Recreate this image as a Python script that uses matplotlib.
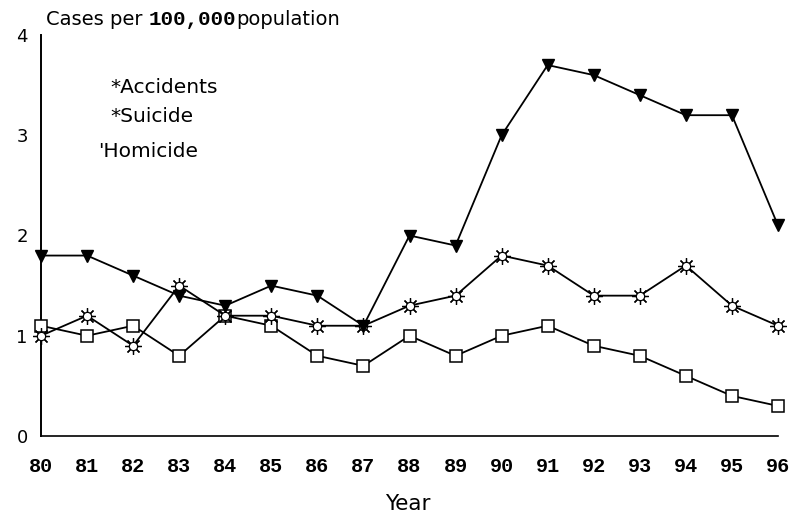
import matplotlib
matplotlib.use("Agg")
import matplotlib.pyplot as plt

years = list(range(80, 97))
year_labels = [str(y) for y in years]
accidents = [1.8, 1.8, 1.6, 1.4, 1.3, 1.5, 1.4, 1.1, 2.0, 1.9, 3.0, 3.7, 3.6, 3.4, 3.2, 3.2, 2.1]
suicide = [1.0, 1.2, 0.9, 1.5, 1.2, 1.2, 1.1, 1.1, 1.3, 1.4, 1.8, 1.7, 1.4, 1.4, 1.7, 1.3, 1.1]
homicide = [1.1, 1.0, 1.1, 0.8, 1.2, 1.1, 0.8, 0.7, 1.0, 0.8, 1.0, 1.1, 0.9, 0.8, 0.6, 0.4, 0.3]
y_ticks = [0, 1, 2, 3, 4]
legend_labels = ["*Accidents", "*Suicide", "'Homicide"]

W, H = 794, 518
fig = plt.figure(figsize=(W / 100, H / 100), dpi=100)
ax = fig.add_axes([41 / W, 1 - 436 / H, (778 - 41) / W, (436 - 35) / H])
ax.set_xlim(80, 96)
ax.set_ylim(0, 4)

lw = 1.3
ax.plot(years, homicide, color="black", lw=lw, marker="s", ms=8,
        mfc="white", mec="black", mew=1.1, clip_on=False, zorder=3)
ax.plot(years, suicide, color="black", lw=lw, clip_on=False, zorder=3)
ax.plot(years, suicide, ls="none", marker=(8, 2, 0), ms=12, mec="black",
        mew=0.9, clip_on=False, zorder=4)
ax.plot(years, suicide, ls="none", marker="o", ms=6, mfc="white",
        mec="black", mew=0.9, clip_on=False, zorder=5)
ax.plot(years, accidents, color="black", lw=lw, marker="v", ms=8,
        mfc="black", mec="black", clip_on=False, zorder=6)

for s in ["top", "right"]:
    ax.spines[s].set_visible(False)
ax.spines["left"].set_linewidth(1.4)
ax.spines["bottom"].set_linewidth(1.2)

ax.set_xticks(years)
ax.set_xticklabels(year_labels, family="Liberation Mono", fontweight="bold", fontsize=14.5)
ax.set_yticks(y_ticks)
ax.set_yticklabels([str(v) for v in y_ticks], family="DejaVu Sans", fontsize=13)
ax.tick_params(axis="x", length=0, pad=15)
ax.tick_params(axis="y", length=0, pad=9.5)

def ftext(px, py, s, **kw):
    return fig.text(px / W, 1 - py / H, s, **kw)

# title line
base = 25
t1 = ftext(46, base, "Cases per ", fontsize=14, family="DejaVu Sans", va="baseline")
fig.canvas.draw()
r = fig.canvas.get_renderer()
bb = t1.get_window_extent(r)
t2 = fig.text(bb.x1 / W, 1 - base / H, "100,000", fontsize=15, family="Liberation Mono",
              fontweight="bold", va="baseline")
bb2 = t2.get_window_extent(r)
fig.text(bb2.x1 / W, 1 - base / H, "population", fontsize=14, family="DejaVu Sans", va="baseline")

ftext(110, 93, legend_labels[0], fontsize=14.5, family="DejaVu Sans", va="baseline")
ftext(110, 122, legend_labels[1], fontsize=14.5, family="DejaVu Sans", va="baseline")
ftext(98, 157, legend_labels[2], fontsize=14.5, family="DejaVu Sans", va="baseline")

ftext(408, 510, "Year", fontsize=15.5, family="DejaVu Sans", va="baseline", ha="center")

fig.savefig("out.png", dpi=100, facecolor="white")
